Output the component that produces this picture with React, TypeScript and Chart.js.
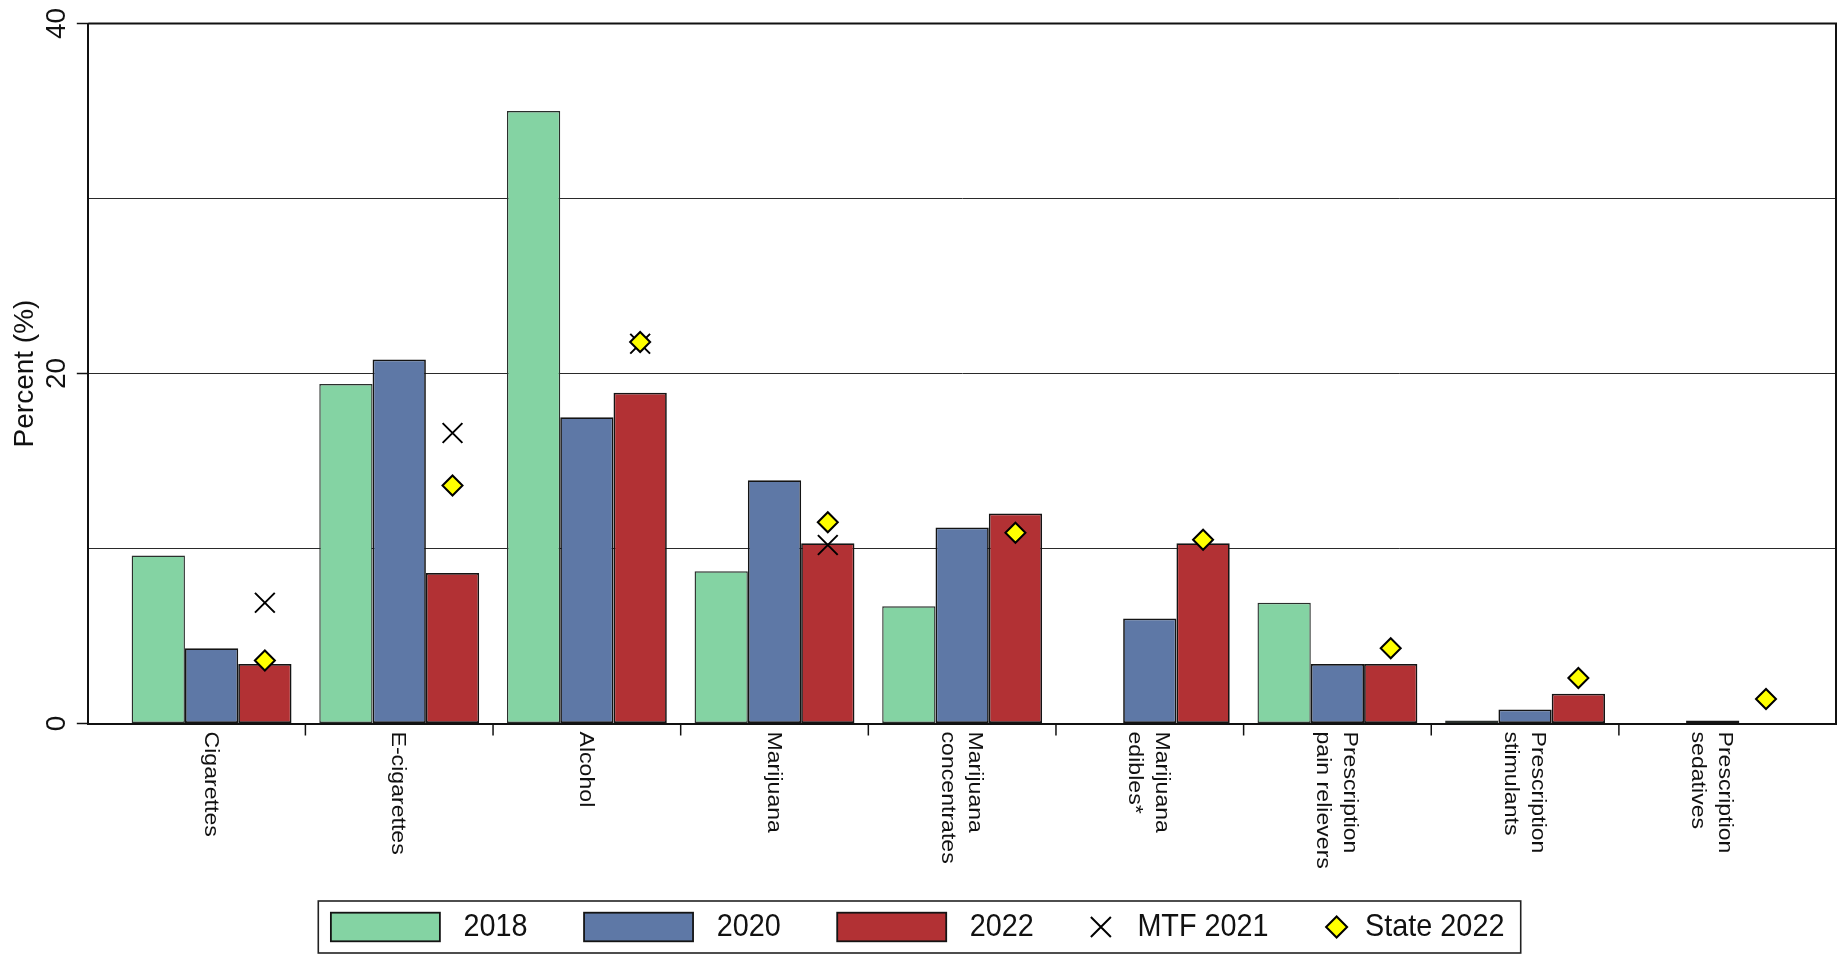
import React, { useEffect, useRef } from 'react';
import { Chart, registerables } from 'chart.js';

Chart.register(...registerables);

// ---------- data ----------
const CATEGORIES: string[][] = [
  ['Cigarettes'],
  ['E-cigarettes'],
  ['Alcohol'],
  ['Marijuana'],
  ['Marijuana', 'concentrates'],
  ['Marijuana', 'edibles*'],
  ['Prescription', 'pain relievers'],
  ['Prescription', 'stimulants'],
  ['Prescription', 'sedatives'],
];
const SERIES_LABELS = ['2018', '2020', '2022', 'MTF 2021', 'State 2022'];
const VALUES_2018: (number | null)[] = [9.6, 19.4, 35.0, 8.7, 6.7, null, 6.9, 0, null];
const VALUES_2020: (number | null)[] = [4.3, 20.8, 17.5, 13.9, 11.2, 6.0, 3.4, 0.8, 0];
const VALUES_2022: (number | null)[] = [3.4, 8.6, 18.9, 10.3, 12.0, 10.3, 3.4, 1.7, null];
const MTF_2021: (number | null)[] = [6.9, 16.6, 21.7, 10.2, null, null, null, null, null];
const STATE_2022: (number | null)[] = [3.6, 13.6, 21.8, 11.5, 10.9, 10.5, 4.3, 2.6, 1.4];
const Y_TICK_LABELS = [0, 20, 40];
const Y_TITLE = 'Percent (%)';

// ---------- styles ----------
const FONT = '"Liberation Sans", Arial, Helvetica, sans-serif';
const INK = '#111111';
const GREEN = '#84d3a3';
const BLUE = '#5e78a6';
const RED = '#b23134';
const YELLOW = '#ffff00';
const BAR_BORDER = '#141414';
const CATEGORY_PCT = 0.852;
const EDGE_PAD = 0.157; // extra room (in category units) at both ends of the x axis
const MARKER_SHIFT = CATEGORY_PCT / 3; // centre of the third (2022) bar in each group

const toPoints = (vals: (number | null)[], shift = 0) =>
  vals.map((v, i) => ({ x: i + shift, y: v }));

const decorPlugin = {
  id: 'decor',
  afterDraw(chart: any) {
    const { ctx, chartArea: a, scales } = chart;
    const xs = scales.x;
    const ys = scales.y;
    ctx.save();
    ctx.strokeStyle = INK;
    ctx.fillStyle = INK;

    // top and right frame
    ctx.lineWidth = 2;
    ctx.beginPath();
    ctx.moveTo(a.left, a.top);
    ctx.lineTo(a.right, a.top);
    ctx.lineTo(a.right, a.bottom);
    ctx.stroke();

    // x tick marks between categories
    ctx.lineWidth = 1.5;
    for (let k = 0; k < CATEGORIES.length - 1; k++) {
      const px = xs.getPixelForValue(k + 0.5);
      ctx.beginPath();
      ctx.moveTo(px, a.bottom);
      ctx.lineTo(px, a.bottom + 12);
      ctx.stroke();
    }

    // y tick marks + rotated labels
    ctx.font = `28px ${FONT}`;
    ctx.textAlign = 'center';
    ctx.textBaseline = 'alphabetic';
    Y_TICK_LABELS.forEach((v) => {
      const py = ys.getPixelForValue(v);
      ctx.beginPath();
      ctx.moveTo(a.left - 11.5, py);
      ctx.lineTo(a.left, py);
      ctx.stroke();
      ctx.save();
      ctx.translate(a.left - 23.3, py);
      ctx.rotate(-Math.PI / 2);
      ctx.fillText(String(v), 0, 0);
      ctx.restore();
    });

    // y title
    ctx.save();
    ctx.translate(32.5, (a.top + a.bottom) / 2);
    ctx.rotate(-Math.PI / 2);
    ctx.fillText(Y_TITLE, 0, 0);
    ctx.restore();

    // x category labels (rotated clockwise, reading downwards)
    ctx.font = `21px ${FONT}`;
    ctx.textAlign = 'left';
    ctx.textBaseline = 'middle';
    CATEGORIES.forEach((lines, i) => {
      const cx = xs.getPixelForValue(i);
      lines.forEach((ln, k) => {
        const lx = cx + ((lines.length - 1) / 2 - k) * 27 - 1;
        ctx.save();
        ctx.translate(lx, a.bottom + 8);
        ctx.rotate(Math.PI / 2);
        ctx.scale(1.1, 1);
        ctx.fillText(ln, 0, 0);
        ctx.restore();
      });
    });

    // legend
    const datasets = chart.data.datasets as any[];
    ctx.font = `28.8px ${FONT}`;
    const items = datasets.map((ds) => {
      const kind = ds.legendKind as string;
      const symW = kind === 'bar' ? 109 : kind === 'cross' ? 21 : 23;
      const gap = kind === 'bar' ? 23.6 : kind === 'cross' ? 26 : 17;
      const tw = ctx.measureText(ds.label).width;
      return { ds, kind, symW, gap, tw };
    });
    const padL = 12.6;
    const padR = 16.3;
    const itemGap = 56.5;
    let total = padL + padR + itemGap * (items.length - 1);
    items.forEach((it) => (total += it.symW + it.gap + it.tw));
    const left = (chart.width - total) / 2;
    const top = 901;
    const h = 52;
    const cy = top + h / 2;
    ctx.lineWidth = 1.6;
    ctx.strokeStyle = '#222';
    ctx.strokeRect(left, top, total, h);

    let cur = left + padL;
    items.forEach((it) => {
      const { ds, kind, symW, gap } = it;
      if (kind === 'bar') {
        ctx.fillStyle = ds.backgroundColor;
        ctx.fillRect(cur, cy - 14.3, symW, 28.6);
        ctx.lineWidth = 1.8;
        ctx.strokeStyle = BAR_BORDER;
        ctx.strokeRect(cur, cy - 14.3, symW, 28.6);
      } else if (kind === 'cross') {
        const mx = cur + symW / 2;
        const r = 10;
        ctx.strokeStyle = '#000';
        ctx.lineWidth = 2;
        ctx.beginPath();
        ctx.moveTo(mx - r, cy - r);
        ctx.lineTo(mx + r, cy + r);
        ctx.moveTo(mx + r, cy - r);
        ctx.lineTo(mx - r, cy + r);
        ctx.stroke();
      } else {
        const mx = cur + symW / 2;
        const r = 10.5;
        ctx.beginPath();
        ctx.moveTo(mx - r, cy);
        ctx.lineTo(mx, cy - r);
        ctx.lineTo(mx + r, cy);
        ctx.lineTo(mx, cy + r);
        ctx.closePath();
        ctx.fillStyle = YELLOW;
        ctx.fill();
        ctx.strokeStyle = '#000';
        ctx.lineWidth = 2;
        ctx.stroke();
      }
      cur += symW + gap;
      ctx.save();
      ctx.translate(cur, cy);
      ctx.scale(1, 1.1);
      ctx.fillStyle = INK;
      ctx.textAlign = 'left';
      ctx.textBaseline = 'middle';
      ctx.fillText(ds.label, 0, 0);
      ctx.restore();
      cur += it.tw + itemGap;
    });

    ctx.restore();
  },
};

export default function App() {
  const canvasRef = useRef<HTMLCanvasElement | null>(null);

  useEffect(() => {
    if (!canvasRef.current) return;
    Chart.defaults.font.family = FONT;
    const barCommon = {
      type: 'bar' as const,
      borderColor: BAR_BORDER,
      borderWidth: 1.7,
      borderSkipped: false,
      minBarLength: 3,
      categoryPercentage: CATEGORY_PCT,
      barPercentage: 1.0,
      order: 2,
      legendKind: 'bar',
    };
    const chart = new Chart(canvasRef.current, {
      type: 'bar',
      data: {
        datasets: [
          { ...barCommon, label: SERIES_LABELS[0], data: toPoints(VALUES_2018), backgroundColor: GREEN, borderColor: '#2a2f2c', borderWidth: 1.4 },
          { ...barCommon, label: SERIES_LABELS[1], data: toPoints(VALUES_2020), backgroundColor: BLUE },
          { ...barCommon, label: SERIES_LABELS[2], data: toPoints(VALUES_2022), backgroundColor: RED },
          {
            type: 'scatter',
            label: SERIES_LABELS[3],
            data: toPoints(MTF_2021, MARKER_SHIFT),
            pointStyle: 'crossRot',
            pointRadius: 14,
            borderColor: '#000',
            backgroundColor: '#000',
            borderWidth: 2,
            order: 1,
            legendKind: 'cross',
          } as any,
          {
            type: 'scatter',
            label: SERIES_LABELS[4],
            data: toPoints(STATE_2022, MARKER_SHIFT),
            pointStyle: 'rectRot',
            pointRadius: 10,
            borderColor: '#000',
            backgroundColor: YELLOW,
            borderWidth: 2,
            order: 0,
            legendKind: 'diamond',
          } as any,
        ] as any,
      },
      options: {
        responsive: false,
        animation: false,
        events: [],
        layout: { autoPadding: false, padding: { left: 88.3, right: 3, top: 23.5, bottom: 232.5 } },
        plugins: {
          legend: { display: false },
          tooltip: { enabled: false },
          title: { display: false },
        },
        scales: {
          x: {
            type: 'linear',
            offset: false,
            min: -0.5 - EDGE_PAD,
            max: CATEGORIES.length - 0.5 + EDGE_PAD,
            afterBuildTicks: (axis: any) => {
              axis.ticks = CATEGORIES.slice(1).map((_, k) => ({ value: k + 0.5 }));
            },
            ticks: { display: false },
            grid: { display: false, drawTicks: false, offset: false },
            border: { display: true, color: INK, width: 2 },
          },
          y: {
            min: 0,
            max: 40,
            ticks: { display: false, stepSize: 10 },
            grid: { color: '#2a2a2a', lineWidth: 1, drawTicks: false },
            border: { display: true, color: INK, width: 2 },
          },
        },
      } as any,
      plugins: [decorPlugin],
    });
    return () => chart.destroy();
  }, []);

  return (
    <div style={{ position: 'fixed', left: 0, top: 0, width: 1839, height: 956, background: '#fff' }}>
      <canvas ref={canvasRef} width={1839} height={956} style={{ display: 'block' }} />
    </div>
  );
}
